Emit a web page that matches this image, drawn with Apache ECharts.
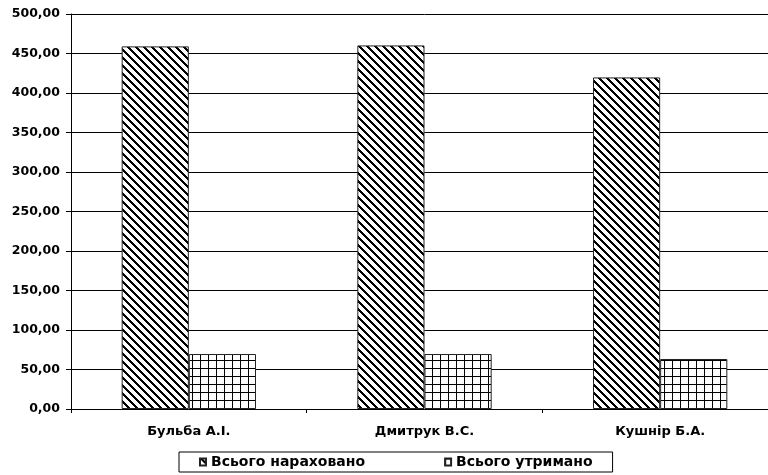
<!DOCTYPE html>
<html><head><meta charset="utf-8">
<script src="https://cdn.jsdelivr.net/npm/echarts@6/dist/echarts.min.js"></script>
<style>html,body{margin:0;padding:0;background:#fff;overflow:hidden}#c{width:780px;height:475px}</style>
</head><body><div id="c"></div>
<script>
const categories = ['Бульба А.І.', 'Дмитрук В.С.', 'Кушнір Б.А.'];
const accrued = [459.0, 460.2, 419.7];
const withheld = [69.6, 69.6, 63.3];
const seriesNames = ['Всього нараховано', 'Всього утримано'];
const yTicks = {min: 0, max: 500, interval: 50};

function hatchPattern() {
  const N = 8, c = document.createElement('canvas');
  c.width = N; c.height = N;
  const ctx = c.getContext('2d');
  ctx.fillStyle = '#fff'; ctx.fillRect(0, 0, N, N);
  ctx.fillStyle = '#000';
  for (let x = 0; x < N; x++) for (let y = 0; y < N; y++) {
    if ((((x - y) % N) + N) % N < 3) ctx.fillRect(x, y, 1, 1);
  }
  return {image: c, repeat: 'repeat'};
}
function gridPattern() {
  const N = 8, c = document.createElement('canvas');
  c.width = N; c.height = N;
  const ctx = c.getContext('2d');
  ctx.fillStyle = '#fff'; ctx.fillRect(0, 0, N, N);
  ctx.fillStyle = '#000';
  ctx.fillRect(0, 0, 1, N);
  ctx.fillRect(0, 0, N, 1);
  return {image: c, repeat: 'repeat'};
}

const font = 'DejaVu Sans';
const chart = echarts.init(document.getElementById('c'), null, {renderer: 'canvas'});
chart.setOption({
  animation: false,
  backgroundColor: '#fff',
  grid: {left: 71, top: 14, width: 707, height: 395, containLabel: false},
  legend: {
    data: seriesNames,
    bottom: 3, left: 179,
    itemWidth: 6, itemHeight: 7, itemGap: 79,
    borderColor: '#000', borderWidth: 1, padding: [3, 20, 3, 20],
    textStyle: {fontFamily: font, fontWeight: 'bold', fontSize: 14, color: '#000'},
    icon: 'rect'
  },
  xAxis: {
    type: 'category', data: categories,
    axisLine: {lineStyle: {color: '#000', width: 1}},
    axisTick: {show: true, length: 4, lineStyle: {color: '#000'}},
    axisLabel: {fontFamily: font, fontWeight: 'bold', fontSize: 13, color: '#000', margin: 16}
  },
  yAxis: {
    type: 'value', min: yTicks.min, max: yTicks.max, interval: yTicks.interval,
    axisLine: {show: true, lineStyle: {color: '#000', width: 1}},
    axisTick: {show: true, length: 5, lineStyle: {color: '#000'}},
    splitLine: {show: true, lineStyle: {color: '#000', width: 1}},
    axisLabel: {fontFamily: font, fontWeight: 'bold', fontSize: 12.5, color: '#000', margin: 11,
      formatter: v => v.toFixed(2).replace('.', ',')}
  },
  series: [
    {name: seriesNames[0], type: 'bar', data: accrued, barGap: '0%', barCategoryGap: '43%',
     itemStyle: {color: hatchPattern(), borderColor: '#222', borderWidth: 1}},
    {name: seriesNames[1], type: 'bar', data: withheld,
     itemStyle: {color: gridPattern(), borderColor: '#222', borderWidth: 1}}
  ]
});
</script></body></html>
